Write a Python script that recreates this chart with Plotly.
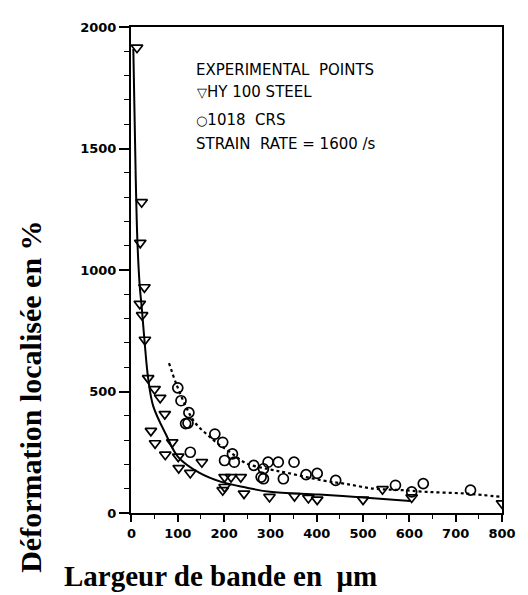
import plotly.graph_objects as go

# HY 100 steel (triangles)
hy_x = [12, 22, 19, 28, 18, 23, 29, 36, 50, 62, 72, 42, 51, 73, 88, 101, 102, 127,
        152, 197, 201, 201, 215, 236, 243, 298, 352, 382, 401, 500, 542, 605, 800]
hy_y = [1915, 1279, 1112, 929, 861, 814, 713, 555, 510, 474, 407, 338, 287, 240, 291, 232, 185, 165,
        209, 94, 107, 148, 148, 148, 80, 66, 70, 62, 55, 55, 98, 64, 40]

# 1018 CRS (circles)
crs_x = [100, 107, 124, 117, 122, 180, 197, 127, 201, 218, 222, 264, 285, 285, 295, 317,
         351, 280, 328, 377, 401, 441, 570, 605, 630, 732]
crs_y = [515, 462, 413, 368, 370, 325, 291, 250, 216, 243, 209, 196, 182, 141, 209, 209,
         209, 148, 141, 158, 163, 134, 114, 87, 121, 94]

# fitted curves
fit_hy_x = [4, 9, 13, 18, 22, 28, 36, 47, 74, 101, 147, 194, 247, 299, 405, 500, 602]
fit_hy_y = [1910, 1400, 1110, 930, 850, 713, 555, 440, 325, 230, 165, 128, 105, 87, 76, 64, 49]

fit_crs_x = [81, 97, 117, 137, 162, 187, 217, 247, 297, 337, 412, 462, 524, 577, 637, 721, 800]
fit_crs_y = [617, 530, 440, 372, 325, 285, 245, 205, 180, 165, 134, 120, 100, 95, 87, 80, 66]

legend_lines = ["EXPERIMENTAL  POINTS",
                "<span style='font-size:13px'>\u25bd</span>HY 100 STEEL",
                "<span style='font-size:13px'>\u25cb</span>1018  CRS",
                "STRAIN  RATE = 1600 /s"]
legend_y = [1825, 1731, 1617, 1519]
legend_x = [135, 138, 136, 135]

x_ticks = [0, 100, 200, 300, 400, 500, 600, 700, 800]
y_ticks = [0, 500, 1000, 1500, 2000]

fig = go.Figure()
fig.add_trace(go.Scatter(x=fit_hy_x, y=fit_hy_y, mode="lines",
                         line=dict(color="black", width=2, shape="spline", smoothing=1.0),
                         showlegend=False, hoverinfo="skip"))
fig.add_trace(go.Scatter(x=fit_crs_x, y=fit_crs_y, mode="lines",
                         line=dict(color="black", width=2.2, dash="dot", shape="spline", smoothing=1.0),
                         showlegend=False, hoverinfo="skip"))
fig.add_trace(go.Scatter(x=hy_x, y=hy_y, mode="markers", name="HY 100 STEEL",
                         marker=dict(symbol="triangle-down-open", size=10, color="black",
                                     line=dict(width=1.7, color="black")),
                         showlegend=False))
fig.add_trace(go.Scatter(x=crs_x, y=crs_y, mode="markers", name="1018 CRS",
                         marker=dict(symbol="circle-open", size=10, color="black",
                                     line=dict(width=1.7, color="black")),
                         showlegend=False))

annotations = []
for t, xx, yy in zip(legend_lines, legend_x, legend_y):
    annotations.append(dict(text=t, x=xx, y=yy, xref="x", yref="y", xanchor="left", yanchor="middle",
                            showarrow=False, font=dict(family="DejaVu Sans", size=15, color="black")))

annotations.append(dict(text="Déformation localisée en %", x=-0.271, y=0.240, xref="paper", yref="paper",
                        textangle=-90, showarrow=False, xanchor="center", yanchor="middle",
                        font=dict(family="Liberation Serif", size=30, color="black", weight="bold")))
annotations.append(dict(text="Largeur de bande en \u00a0\u03bcm", x=0.241, y=-0.130, xref="paper", yref="paper",
                        showarrow=False, xanchor="center", yanchor="middle",
                        font=dict(family="Liberation Serif", size=29, color="black", weight="bold")))

fig.update_layout(
    width=520, height=587,
    margin=dict(l=123, r=17, t=14, b=82),
    paper_bgcolor="white", plot_bgcolor="white",
    annotations=annotations,
    xaxis=dict(range=[-1, 800], tickvals=x_ticks,
               ticks="outside", ticklen=7, tickwidth=1.5, tickcolor="black",
               minor=dict(dtick=50, tick0=0, ticks="outside", ticklen=4, tickcolor="black", tickwidth=1.2),
               showline=True, linecolor="black", linewidth=2, mirror=True,
               showgrid=False, zeroline=False,
               tickfont=dict(family="DejaVu Sans", size=13, color="black", weight="bold")),
    yaxis=dict(range=[0, 2000], tickvals=y_ticks,
               ticks="outside", ticklen=10, tickwidth=1.5, tickcolor="black",
               minor=dict(dtick=100, tick0=0, ticks="outside", ticklen=5, tickcolor="black", tickwidth=1.2),
               showline=True, linecolor="black", linewidth=2, mirror=True,
               showgrid=False, zeroline=False,
               tickfont=dict(family="DejaVu Sans", size=13, color="black", weight="bold")),
)

fig.write_html("out.html")
